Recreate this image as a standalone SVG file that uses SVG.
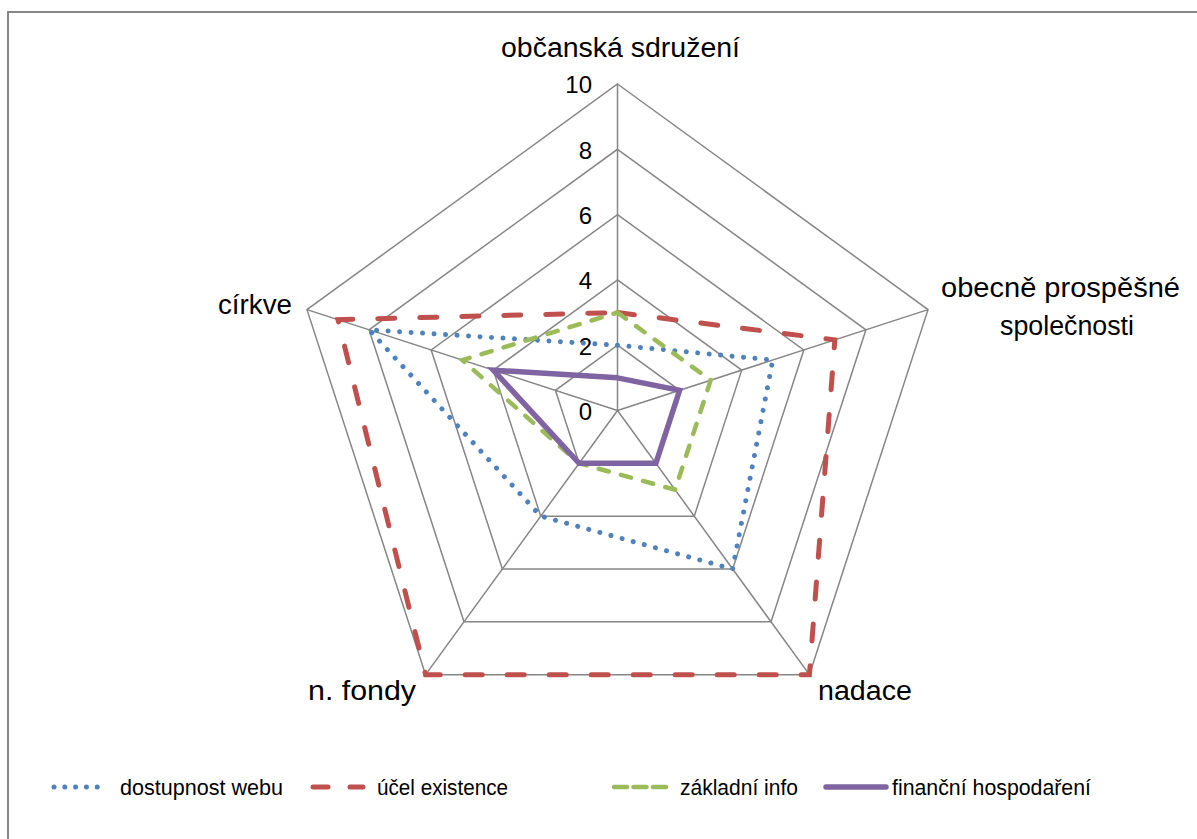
<svg xmlns="http://www.w3.org/2000/svg" width="1197" height="839" viewBox="0 0 1197 839">
<style>
.grid{fill:none;stroke:#868686;stroke-width:1.5}
.lbl{font-family:"Liberation Sans",Arial,sans-serif;font-size:27px;fill:#000}
.tick{font-family:"Liberation Sans",Arial,sans-serif;font-size:24px;fill:#000;text-anchor:end}
.leg{font-family:"Liberation Sans",Arial,sans-serif;font-size:22px;fill:#000}
.s-blue{fill:none;stroke:#4F81BD;stroke-width:5;stroke-linecap:round;stroke-linejoin:round;stroke-dasharray:0.01 11.5}
.s-red{fill:none;stroke:#C0504D;stroke-width:5;stroke-linecap:round;stroke-linejoin:miter;stroke-dasharray:17 25}
.s-green{fill:none;stroke:#9BBB59;stroke-width:4.5;stroke-linecap:round;stroke-linejoin:miter;stroke-dasharray:10.5 12.5}
.s-purple{fill:none;stroke:#8064A2;stroke-width:5.5;stroke-linecap:round;stroke-linejoin:miter}
</style>
<rect x="0" y="0" width="1197" height="839" fill="#fff"/>
<rect x="8" y="12" width="1200" height="840" fill="#fff" stroke="#868686" stroke-width="2"/>

<g id="grid">
<polygon class="grid" points="617.5,84 928.02,309.61 809.41,674.64 425.59,674.64 306.98,309.61"/>
<polygon class="grid" points="617.5,149.3 865.92,329.78 771.03,621.82 463.97,621.82 369.08,329.78"/>
<polygon class="grid" points="617.5,214.6 803.81,349.96 732.65,568.99 502.35,568.99 431.19,349.96"/>
<polygon class="grid" points="617.5,279.9 741.71,370.14 694.26,516.16 540.74,516.16 493.29,370.14"/>
<polygon class="grid" points="617.5,345.2 679.6,390.32 655.88,463.33 579.12,463.33 555.4,390.32"/>
<path class="grid" d="M617.5,410.5L617.5,84M617.5,410.5L928.02,309.61M617.5,410.5L809.41,674.64M617.5,410.5L425.59,674.64M617.5,410.5L306.98,309.61"/>
</g>

<g id="ticks">
<text class="tick" x="592" y="93">10</text>
<text class="tick" x="592" y="159">8</text>
<text class="tick" x="592" y="224">6</text>
<text class="tick" x="592" y="289">4</text>
<text class="tick" x="592" y="355">2</text>
<text class="tick" x="592" y="420">0</text>
</g>

<g id="axis-labels">
<text id="lbl-os" class="lbl" x="501" y="57" textLength="239" lengthAdjust="spacingAndGlyphs">občanská sdružení</text>
<text id="lbl-ops1" class="lbl" x="941" y="297" textLength="239" lengthAdjust="spacingAndGlyphs">obecně prospěšné</text>
<text id="lbl-ops2" class="lbl" x="1000" y="335" textLength="134" lengthAdjust="spacingAndGlyphs">společnosti</text>
<text id="lbl-cirkve" class="lbl" x="218" y="314" textLength="74" lengthAdjust="spacingAndGlyphs">církve</text>
<text id="lbl-fondy" class="lbl" x="308" y="700" textLength="108" lengthAdjust="spacingAndGlyphs">n. fondy</text>
<text id="lbl-nadace" class="lbl" x="818" y="700" textLength="94" lengthAdjust="spacingAndGlyphs">nadace</text>
</g>

<g id="series">
<polygon id="s-dostupnost" class="s-blue" points="617.5,345.2 772.76,360.05 732.65,568.99 540.74,516.16 369.08,329.78"/>
<polygon id="s-ucel" class="s-red" points="617.5,312.55 834.86,339.87 809.41,674.64 425.59,674.64 338.03,319.69"/>
<polygon id="s-zakladni" class="s-green" points="617.5,312.55 710.66,380.23 675.07,489.74 579.12,463.33 462.24,360.05"/>
<polygon id="s-financni" class="s-purple" points="617.5,377.85 679.6,390.32 655.88,463.33 579.12,463.33 493.29,370.14"/>
</g>

<g id="legend">
<line class="s-blue" x1="54" y1="787" x2="108" y2="787" style="stroke-dasharray:0.01 10.8"/>
<text class="leg" x="120" y="795" textLength="163" lengthAdjust="spacingAndGlyphs">dostupnost webu</text>
<line class="s-red" x1="313" y1="787" x2="363" y2="787" style="stroke-dasharray:15 22"/>
<text class="leg" x="377" y="795" textLength="131" lengthAdjust="spacingAndGlyphs">účel existence</text>
<line class="s-green" x1="614" y1="787" x2="666" y2="787" style="stroke-dasharray:13 6.5"/>
<text class="leg" x="680" y="795" textLength="118" lengthAdjust="spacingAndGlyphs">základní info</text>
<line class="s-purple" x1="826" y1="787" x2="886" y2="787"/>
<text class="leg" x="892" y="795" textLength="199" lengthAdjust="spacingAndGlyphs">finanční hospodaření</text>
</g>
</svg>
